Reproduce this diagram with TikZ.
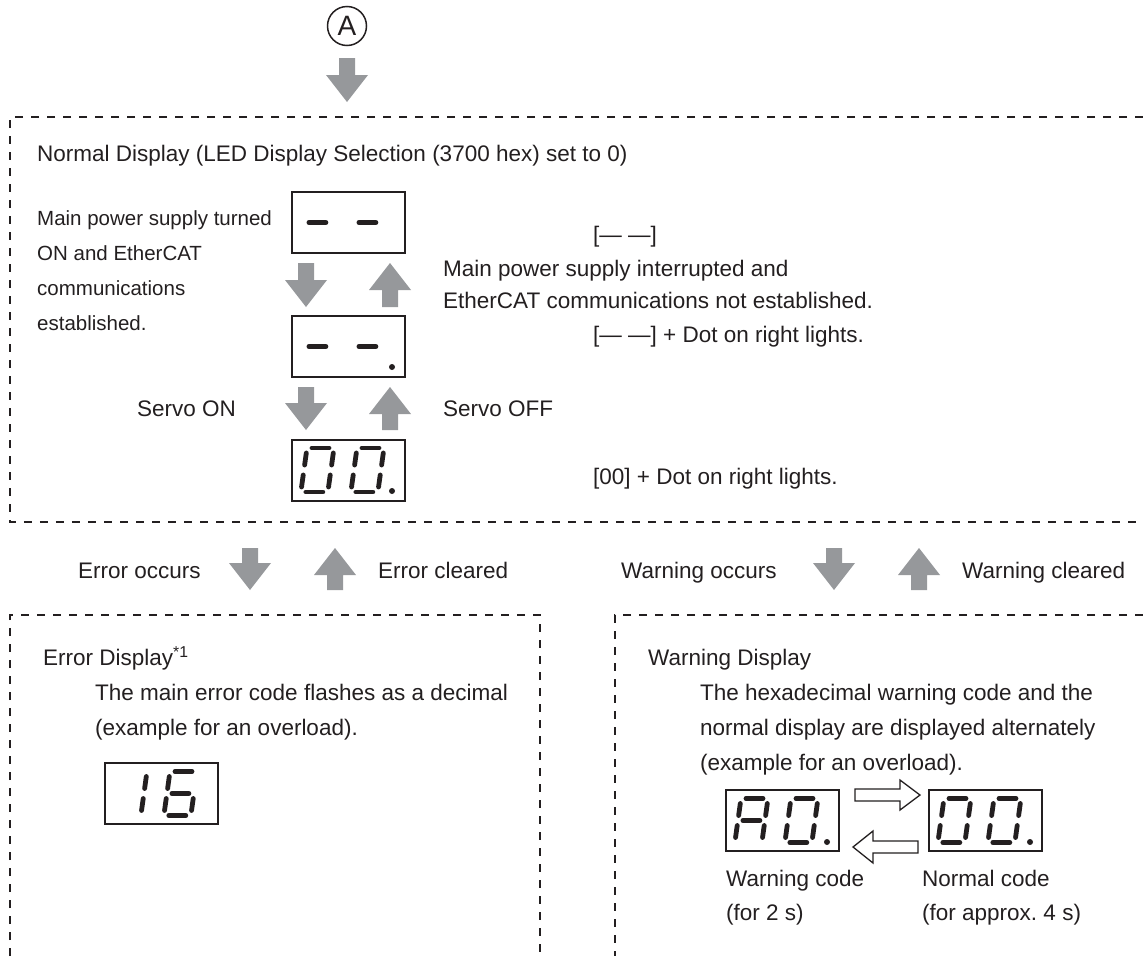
\documentclass[tikz,border=0pt]{standalone}
\usepackage{fontspec}
\setmainfont{Liberation Sans}
\definecolor{ink}{RGB}{35,31,32}
\definecolor{arrowgray}{RGB}{150,152,155}
\newcommand\SegA{\draw[segline] (5,0) -- (22,0);}
\newcommand\SegB{\draw[segline] (27,5) -- (27,17);}
\newcommand\SegC{\draw[segline] (27,27) -- (27,39);}
\newcommand\SegD{\draw[segline] (5,44) -- (22,44);}
\newcommand\SegE{\draw[segline] (0,27) -- (0,39);}
\newcommand\SegF{\draw[segline] (0,5) -- (0,17);}
\newcommand\SegG{\draw[segline] (5,22) -- (22,22);}
\newcommand\Dig[3]{\begin{scope}[shift={(#1,#2)},xslant=0.14]\foreach \s in {#3}{\csname Seg\s\endcsname}\end{scope}}
\newcommand\DownArr[3]{\fill[arrowgray] (#1-8,#2) -- (#1+8,#2) -- (#1+8,#3-27) -- (#1+21,#3-27) -- (#1,#3) -- (#1-21,#3-27) -- (#1-8,#3-27) -- cycle;}
\newcommand\UpArr[3]{\fill[arrowgray] (#1-8,#3) -- (#1+8,#3) -- (#1+8,#2+27) -- (#1+21,#2+27) -- (#1,#2) -- (#1-21,#2+27) -- (#1-8,#2+27) -- cycle;}
\begin{document}
\begin{tikzpicture}[x=1pt,y=-1pt,
  dashline/.style={draw=ink,line width=1.4,dash pattern=on 8 off 8},
  lcdbox/.style={draw=ink,line width=1.4,minimum width=113,minimum height=61,inner sep=0},
  segline/.style={draw=ink,line width=4.8,line cap=round},
  txt/.style={anchor=base west,inner sep=0,text=ink,font=\fontsize{22.5}{27}\selectfont},
  smalltxt/.style={anchor=base west,inner sep=0,text=ink,font=\fontsize{20.5}{24}\selectfont},
  outarrow/.style={draw=ink,fill=white,line width=1.3,line join=miter}]
\useasboundingbox (0,0) rectangle (1143,956);
% circled A and entry arrow
\node[circle,draw=ink,line width=1.5,minimum size=39,inner sep=0,text=ink,font=\fontsize{28}{28}\selectfont] (A) at (347,26) {A};
\DownArr{347}{58}{102}
% dashed frames
\draw[dashline] (1143,117) -- (10,117) -- (10,522) -- (1143,522);
\draw[dashline] (10,956) -- (10,615) -- (540,615) -- (540,956);
\draw[dashline] (1143,615) -- (615,615) -- (615,956);
% normal display
\node[txt] (title) at (37,161) {Normal Display (LED Display Selection (3700 hex) set to 0)};
\node[lcdbox] (d1) at (348.5,222.5) {};
\node[lcdbox] (d2) at (348.5,346.5) {};
\node[lcdbox] (d3) at (348.5,470.5) {};
\Dig{307}{200.5}{G}\Dig{357}{200.5}{G}
\Dig{307}{324.5}{G}\Dig{357}{324.5}{G}
\fill[ink] (392,367) circle (3);
\Dig{307}{448}{A,B,C,D,E,F}\Dig{357}{448}{A,B,C,D,E,F}
\fill[ink] (392,491) circle (3);
\DownArr{306}{263}{307}\UpArr{390}{263}{307}
\DownArr{306}{387}{430}\UpArr{390}{387}{430}
\node[smalltxt] (l1) at (37,225) {Main power supply turned};
\node[smalltxt] (l2) at (37,260) {ON and EtherCAT};
\node[smalltxt] (l3) at (37,295) {communications};
\node[smalltxt] (l4) at (37,330) {established.};
\node[txt] (r1) at (593,242) {[— —]};
\node[txt] (r2) at (443,276) {Main power supply interrupted and};
\node[txt] (r3) at (443,308) {EtherCAT communications not established.};
\node[txt] (r4) at (593,342) {[— —] + Dot on right lights.};
\node[txt] (son) at (137,416) {Servo ON};
\node[txt] (soff) at (443,416) {Servo OFF};
\node[txt] (r5) at (593,484) {[00] + Dot on right lights.};
% transitions
\node[txt] (eo) at (78,578) {Error occurs};
\DownArr{250}{548}{590}\UpArr{335}{548}{590}
\node[txt] (ec) at (378,578) {Error cleared};
\node[txt] (wo) at (621,578) {Warning occurs};
\DownArr{834}{548}{590}\UpArr{919}{548}{590}
\node[txt] (wc) at (962,578) {Warning cleared};
% error display
\node[txt] (ed) at (43,665) {Error Display\textsuperscript{*1}};
\node[txt] (ed1) at (95,700) {The main error code flashes as a decimal};
\node[txt] (ed2) at (95,735) {(example for an overload).};
\node[lcdbox] (d16) at (161.5,793.5) {};
\Dig{120}{771.5}{B,C}\Dig{170}{771.5}{A,F,G,E,D,C}
% warning display
\node[txt] (wd) at (648,665) {Warning Display};
\node[txt] (wd1) at (700,700) {The hexadecimal warning code and the};
\node[txt] (wd2) at (700,735) {normal display are displayed alternately};
\node[txt] (wd3) at (700,770) {(example for an overload).};
\node[lcdbox] (wa) at (782.5,820.5) {};
\node[lcdbox] (wn) at (985.5,820.5) {};
\Dig{741}{798.5}{A,B,C,E,F,G}\Dig{791}{798.5}{A,B,C,D,E,F}
\fill[ink] (827,842) circle (3);
\Dig{944}{798.5}{A,B,C,D,E,F}\Dig{994}{798.5}{A,B,C,D,E,F}
\fill[ink] (1030,842) circle (3);
\draw[outarrow] (855,789) -- (900,789) -- (900,780) -- (920,795) -- (900,810) -- (900,801) -- (855,801) -- cycle;
\draw[outarrow] (918,841) -- (873,841) -- (873,831) -- (853,847) -- (873,863) -- (873,853) -- (918,853) -- cycle;
\node[txt] (wl1) at (726,886) {Warning code};
\node[txt] (wl2) at (726,920) {(for 2 s)};
\node[txt] (nl1) at (922,886) {Normal code};
\node[txt] (nl2) at (922,920) {(for approx.\ 4 s)};
\end{tikzpicture}
\end{document}
